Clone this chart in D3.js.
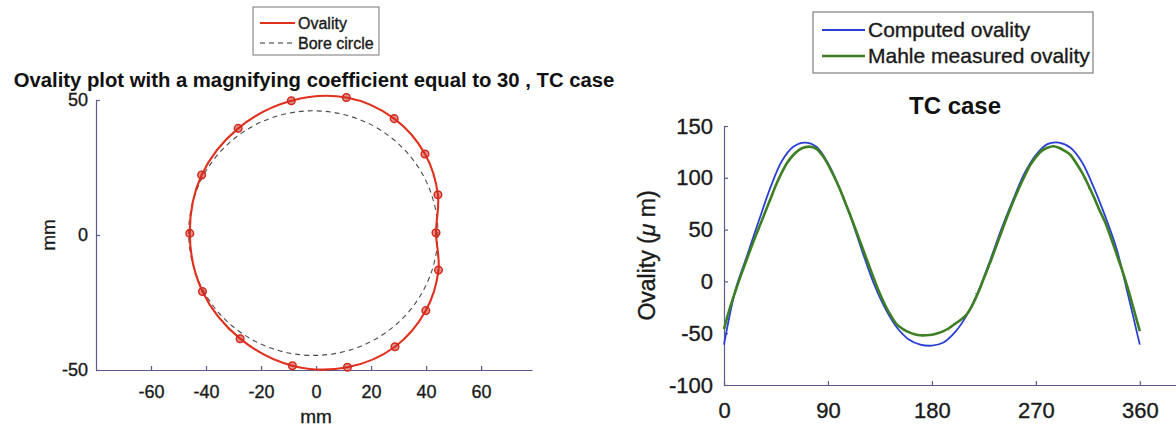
<!DOCTYPE html>
<html>
<head>
<meta charset="utf-8">
<script src="https://cdn.jsdelivr.net/npm/d3@7"></script>
<style>
  html, body { margin: 0; padding: 0; background: #fff; }
  svg { display: block; font-family: "Liberation Sans", Arial, Helvetica, sans-serif; }
  .axis path, .axis line { stroke: #5a5a8c; stroke-width: 1.2; }
  .axis text, .lbl { fill: #1a1a1a; stroke: #1a1a1a; stroke-width: 0.35; }
</style>
</head>
<body>
<svg id="chart" width="1176" height="426"></svg>
<script>
// ---- Left panel: magnified ovality profile (mm) ----
// Sample points of the magnified profile, counter-clockwise from 0°
const ovalityX = [43.6, 44.3, 39.6, 28.4, 11.0, -9.0, -28.3, -41.6, -45.9, -41.3, -27.6, -8.6, 11.4, 28.7, 39.9, 44.5];
const ovalityY = [0.8, 14.9, 30.0, 43.1, 50.9, 49.7, 39.5, 22.2, 0.6, -20.9, -38.4, -48.4, -49.0, -41.4, -28.0, -13.0];
// Nominal bore circle
const boreCenter = [-1.0, 0.7];
const boreRadius = 45.3;
const leftXTicks = [-60, -40, -20, 0, 20, 40, 60];
const leftYTicks = [-50, 0, 50];

// ---- Right panel: ovality vs angle (µm) ----
const computedAngle = [0, 10, 20, 30, 40, 50, 60, 70, 80, 90, 100, 110, 120, 130, 140, 150, 160, 170, 180,
  190, 200, 210, 220, 230, 240, 250, 260, 270, 280, 290, 300, 310, 320, 330, 340, 350, 360];
const computedOvality = [-61, -8, 25, 58, 90, 116, 130, 134, 130, 114, 90, 61, 28, -3, -27, -45, -56, -61, -62,
  -59, -49, -33, -10, 19, 50, 78, 104, 122, 132.5, 134, 129, 115, 91, 63, 31, -14, -61];
const measuredAngle = d3.range(0, 361, 5);
const measuredOvality = [-46, -26, -9, 7, 22, 37, 51, 65, 79, 93, 105, 115, 122, 127, 129.5, 130, 128, 122, 113,
  102, 90, 76, 62, 47, 32, 17, 2, -12, -24, -34, -42, -46, -49, -51, -52, -52, -51.5, -50, -48, -45, -41,
  -37, -32, -23, -11, 3, 17, 32, 47, 62, 76, 89, 101, 112, 120, 126, 129, 130.5, 129, 126, 122, 114,
  105, 94, 82, 69, 57, 42, 26, 10, -8, -28, -48];
const rightXTicks = [0, 90, 180, 270, 360];
const rightYTicks = [-100, -50, 0, 50, 100, 150];

const svg = d3.select("#chart");
const plain = d => String(d);

// Slight roughness for the measured trace
const defs = svg.append("defs");
const rough = defs.append("filter").attr("id", "rough").attr("x", "-5%").attr("y", "-5%").attr("width", "110%").attr("height", "110%");
rough.append("feTurbulence").attr("type", "fractalNoise").attr("baseFrequency", 0.6).attr("numOctaves", 1).attr("seed", 3).attr("result", "n");
rough.append("feDisplacementMap").attr("in", "SourceGraphic").attr("in2", "n").attr("scale", 1.8)
  .attr("xChannelSelector", "R").attr("yChannelSelector", "G");

// ================= Left panel =================
const xL = d3.scaleLinear().domain([-80, 78.5]).range([96, 532]);
const yL = d3.scaleLinear().domain([-50, 50]).range([370, 100]);

svg.append("g").attr("class", "axis")
  .attr("transform", `translate(0,${yL(-50)})`)
  .call(d3.axisBottom(xL).tickValues(leftXTicks).tickFormat(plain).tickSizeInner(-4).tickSizeOuter(0).tickPadding(15))
  .call(g => g.selectAll("text").attr("font-size", 18));

svg.append("g").attr("class", "axis")
  .attr("transform", `translate(${xL(-80)},0)`)
  .call(d3.axisLeft(yL).tickValues(leftYTicks).tickFormat(plain).tickSizeInner(-4).tickSizeOuter(0).tickPadding(8))
  .call(g => g.selectAll("text").attr("font-size", 18));

svg.append("text").attr("class", "lbl").attr("x", xL(0)).attr("y", 423)
  .attr("text-anchor", "middle").attr("font-size", 19).text("mm");
svg.append("text").attr("class", "lbl").attr("transform", `translate(55,${yL(0)}) rotate(-90)`)
  .attr("text-anchor", "middle").attr("font-size", 19).text("mm");

svg.append("text").attr("x", (xL.range()[0] + xL.range()[1]) / 2).attr("y", 87)
  .attr("text-anchor", "middle").attr("font-size", 20.3).attr("font-weight", "bold")
  .attr("fill", "#111").text("Ovality plot with a magnifying coefficient equal to 30 , TC case");

// Bore circle (dashed)
svg.append("ellipse")
  .attr("cx", xL(boreCenter[0])).attr("cy", yL(boreCenter[1]))
  .attr("rx", xL(boreCenter[0] + boreRadius) - xL(boreCenter[0]))
  .attr("ry", yL(boreCenter[1]) - yL(boreCenter[1] + boreRadius))
  .attr("fill", "none").attr("stroke", "#4a4a4a").attr("stroke-width", 1.1)
  .attr("stroke-dasharray", "5,4");

// Ovality profile
const ovalPts = ovalityX.map((x, i) => [x, ovalityY[i]]);
svg.append("path")
  .attr("d", d3.line().x(d => xL(d[0])).y(d => yL(d[1])).curve(d3.curveCatmullRomClosed.alpha(0.5))(ovalPts))
  .attr("fill", "none").attr("stroke", "#e2301e").attr("stroke-width", 2.1);
svg.append("g").selectAll("circle").data(ovalPts).join("circle")
  .attr("cx", d => xL(d[0])).attr("cy", d => yL(d[1])).attr("r", 3.8)
  .attr("fill", "rgba(200,40,30,0.5)").attr("stroke", "#d42a1c").attr("stroke-width", 1.5);

// Left legend
const legL = svg.append("g");
legL.append("rect").attr("x", 253).attr("y", 7).attr("width", 126).attr("height", 48)
  .attr("fill", "#fff").attr("stroke", "#777").attr("stroke-width", 1);
legL.append("line").attr("x1", 260).attr("x2", 295).attr("y1", 23).attr("y2", 23)
  .attr("stroke", "#e2301e").attr("stroke-width", 2);
legL.append("line").attr("x1", 260).attr("x2", 295).attr("y1", 43).attr("y2", 43)
  .attr("stroke", "#333").attr("stroke-width", 1.2).attr("stroke-dasharray", "5,4");
legL.append("text").attr("class", "lbl").attr("x", 298).attr("y", 23).attr("dy", "0.35em").attr("font-size", 16).text("Ovality");
legL.append("text").attr("class", "lbl").attr("x", 298).attr("y", 43).attr("dy", "0.35em").attr("font-size", 16).text("Bore circle");

// ================= Right panel =================
const xR = d3.scaleLinear().domain([0, 400]).range([724, 1186]);
const yR = d3.scaleLinear().domain([-100, 150]).range([385, 126]);

svg.append("g").attr("class", "axis")
  .attr("transform", `translate(0,${yR(-100)})`)
  .call(d3.axisBottom(xR).tickValues(rightXTicks).tickFormat(plain).tickSizeInner(-4).tickSizeOuter(0).tickPadding(17))
  .call(g => g.selectAll("text").attr("font-size", 22));

svg.append("g").attr("class", "axis")
  .attr("transform", `translate(${xR(0)},0)`)
  .call(d3.axisLeft(yR).tickValues(rightYTicks).tickFormat(plain).tickSizeInner(-4).tickSizeOuter(0).tickPadding(11))
  .call(g => g.selectAll("text").attr("font-size", 22));

const yLab = svg.append("text").attr("class", "lbl").attr("transform", `translate(655,${yR(25)}) rotate(-90)`)
  .attr("text-anchor", "middle").attr("font-size", 23);
yLab.append("tspan").text("Ovality (");
yLab.append("tspan").attr("font-style", "italic").text("\u03bc");
yLab.append("tspan").text(" m)");

svg.append("text").attr("x", (xR.range()[0] + xR.range()[1]) / 2).attr("y", 114)
  .attr("text-anchor", "middle").attr("font-size", 24).attr("font-weight", "bold")
  .attr("fill", "#111").text("TC case");

const lineR = d3.line().x(d => xR(d[0])).y(d => yR(d[1])).curve(d3.curveCatmullRom.alpha(0.5));
svg.append("path")
  .attr("d", lineR(computedAngle.map((a, i) => [a, computedOvality[i]])))
  .attr("fill", "none").attr("stroke", "#2a3fd4").attr("stroke-width", 1.8);
svg.append("path")
  .attr("d", lineR(measuredAngle.map((a, i) => [a, measuredOvality[i]])))
  .attr("fill", "none").attr("stroke", "#3d7f22").attr("stroke-width", 2.6)
  .attr("filter", "url(#rough)");

// Right legend
const legR = svg.append("g");
legR.append("rect").attr("x", 813).attr("y", 12).attr("width", 280).attr("height", 61)
  .attr("fill", "#fff").attr("stroke", "#666").attr("stroke-width", 1);
legR.append("line").attr("x1", 822).attr("x2", 865).attr("y1", 30).attr("y2", 30)
  .attr("stroke", "#2a3fd4").attr("stroke-width", 1.8);
legR.append("line").attr("x1", 822).attr("x2", 865).attr("y1", 56).attr("y2", 56)
  .attr("stroke", "#3d7f22").attr("stroke-width", 2.4);
legR.append("text").attr("class", "lbl").attr("x", 868).attr("y", 30).attr("dy", "0.35em").attr("font-size", 21).text("Computed ovality");
legR.append("text").attr("class", "lbl").attr("x", 868).attr("y", 56).attr("dy", "0.35em").attr("font-size", 21).text("Mahle measured ovality");
</script>
</body>
</html>
